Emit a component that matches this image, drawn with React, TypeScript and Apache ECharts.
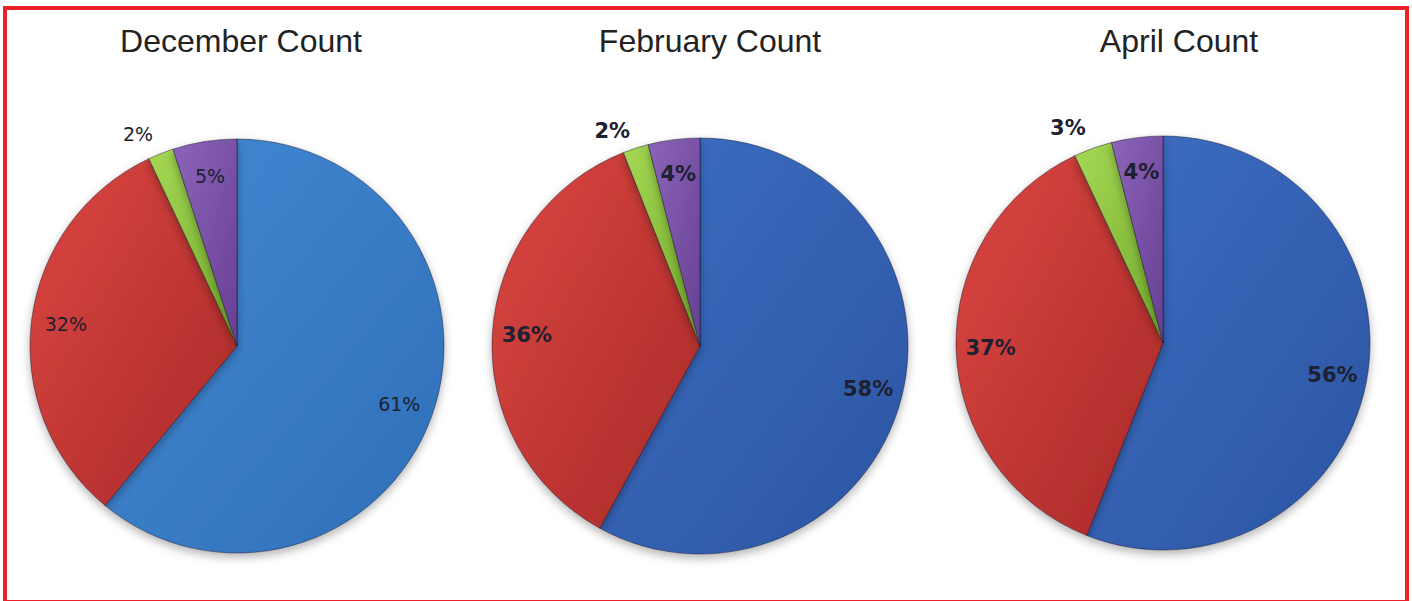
import React, { useEffect, useRef } from 'react';
import * as echarts from 'echarts';

const titles = ['December Count', 'February Count', 'April Count'];
const categories = ['Group A', 'Group B', 'Group C', 'Group D'];
const decemberValues = [61, 32, 2, 5];
const februaryValues = [58, 36, 2, 4];
const aprilValues = [56, 37, 3, 4];

const grad = (a: string, b: string) =>
  new echarts.graphic.LinearGradient(0, 0, 1, 1, [
    { offset: 0, color: a },
    { offset: 1, color: b },
  ]);

export default function App() {
  const ref = useRef<HTMLDivElement>(null);
  useEffect(() => {
    if (!ref.current) return;
    const chart = echarts.init(ref.current, undefined, { renderer: 'svg' });

    const pies = [
      { values: decemberValues, center: [237, 346], r: 207, titleX: 236, blue: ['#438ad4', '#2f6fb8'], fontSize: 19, weight: 'normal', outLen: 21 },
      { values: februaryValues, center: [700, 346], r: 208, titleX: 705, blue: ['#3d6ec2', '#2b54a2'], fontSize: 21, weight: 'bold', outLen: 18 },
      { values: aprilValues, center: [1163, 343], r: 207, titleX: 1174, blue: ['#3d6ec2', '#2b54a2'], fontSize: 21, weight: 'bold', outLen: 21 },
    ];

    const series: any[] = [];
    pies.forEach((p) => {
      const colors = [
        grad(p.blue[0], p.blue[1]),
        grad('#dc4742', '#a82828'),
        grad('#a6d855', '#72ab2a'),
        grad('#8c64ba', '#664092'),
      ];
      const data = categories.map((name, k) => ({ name, value: p.values[k] }));
      series.push({
        type: 'pie',
        center: p.center,
        radius: [0, p.r],
        startAngle: 90,
        clockwise: true,
        silent: true,
        label: { show: false },
        labelLine: { show: false },
        data: data.map((d, k) => ({
          ...d,
          itemStyle: {
            color: colors[k],
            borderColor: 'rgba(20,20,40,0.45)',
            borderWidth: 1,
            shadowBlur: 10,
            shadowOffsetY: 4,
            shadowColor: 'rgba(0,0,0,0.3)',
          },
        })),
      });
      series.push({
        type: 'pie',
        center: p.center,
        radius: [Math.round(p.r * 0.64), p.r],
        startAngle: 90,
        clockwise: true,
        silent: true,
        avoidLabelOverlap: false,
        itemStyle: { color: 'rgba(0,0,0,0)' },
        label: {
          show: true,
          position: 'inside',
          formatter: '{c}%',
          color: '#1c2030',
          fontFamily: 'DejaVu Sans',
          fontSize: p.fontSize,
          fontWeight: p.weight,
        },
        labelLine: { show: false, length: p.outLen, length2: 0 },
        data: data.map((d) =>
          d.value <= 3
            ? { ...d, label: { position: 'outside', distanceToLabelLine: 0 } }
            : d
        ),
      });
    });

    chart.setOption({
      animation: false,
      backgroundColor: '#ffffff',
      title: pies.map((p, i) => ({
        text: titles[i],
        left: p.titleX,
        top: 20,
        textAlign: 'center',
        textStyle: {
          fontFamily: 'Liberation Sans',
          fontSize: 32,
          fontWeight: 'normal',
          color: '#222222',
        },
      })),
      graphic: [
        {
          type: 'rect',
          shape: { x: 5, y: 8, width: 1402, height: 594 },
          style: { fill: 'none', stroke: '#ec2129', lineWidth: 4 },
          silent: true,
        },
      ],
      series,
    });
    return () => chart.dispose();
  }, []);
  return (
    <div
      ref={ref}
      style={{ position: 'fixed', left: 0, top: 0, width: 1412, height: 601 }}
    />
  );
}
